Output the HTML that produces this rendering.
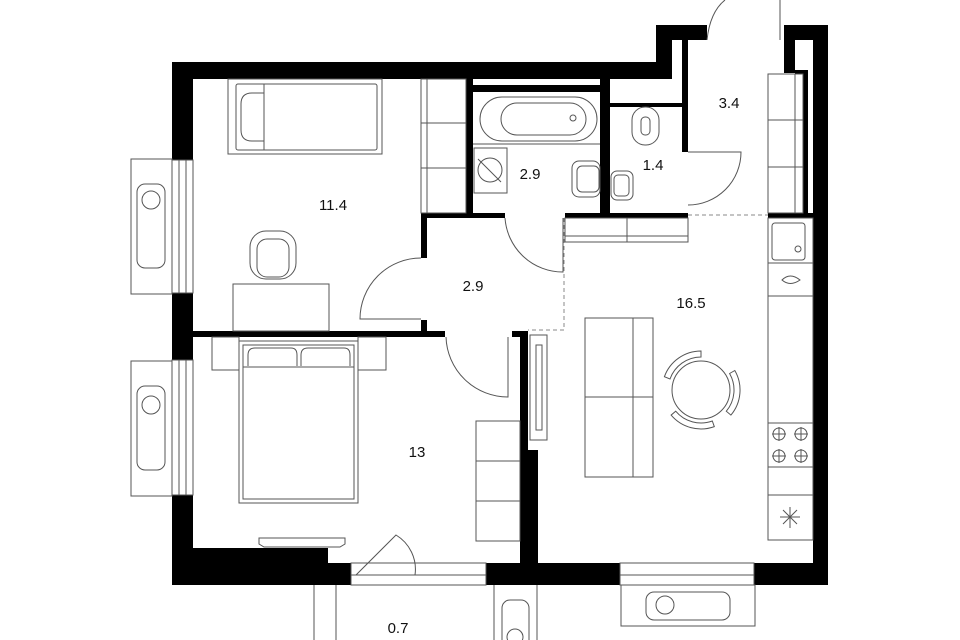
<!DOCTYPE html>
<html><head><meta charset="utf-8"><style>
html,body{margin:0;padding:0;background:#fff;}
svg{display:block;}
text{font-family:"Liberation Sans",sans-serif;font-size:15px;fill:#111;text-anchor:middle;}
</style></head><body>
<svg width="960" height="640" viewBox="0 0 960 640" xmlns="http://www.w3.org/2000/svg">
<g fill="#000">
<rect x="172" y="62" width="500" height="17"/>
<rect x="656" y="25" width="16" height="54"/>
<rect x="656" y="25" width="51" height="15"/>
<rect x="682" y="40" width="6" height="112"/>
<rect x="784" y="25" width="44" height="15"/>
<rect x="784" y="25" width="11" height="48"/>
<rect x="795" y="70" width="13" height="4"/>
<rect x="803" y="70" width="5" height="145"/>
<rect x="813" y="25" width="15" height="560"/>
<rect x="172" y="62" width="21" height="98"/>
<rect x="172" y="293" width="21" height="67"/>
<rect x="172" y="495" width="21" height="90"/>
<rect x="172" y="548" width="156" height="37"/>
<rect x="172" y="563" width="179" height="22"/>
<rect x="486" y="563" width="134" height="22"/>
<rect x="754" y="563" width="74" height="22"/>
<rect x="193" y="331" width="252" height="6"/>
<rect x="421" y="213" width="6" height="45"/>
<rect x="421" y="320" width="6" height="11"/>
<rect x="421" y="213" width="84" height="5"/>
<rect x="565" y="213" width="123" height="5"/>
<rect x="466" y="79" width="7" height="139"/>
<rect x="473" y="85" width="127" height="7"/>
<rect x="600" y="79" width="10" height="139"/>
<rect x="610" y="103" width="72" height="4"/>
<rect x="520" y="331" width="8" height="232"/>
<rect x="512" y="331" width="16" height="6"/>
<rect x="520" y="450" width="18" height="113"/>
<rect x="768" y="213" width="45" height="5"/>
</g>
<g fill="none" stroke="#555" stroke-width="1">
<rect x="172" y="160" width="21" height="133"/><line x1="179" y1="160" x2="179" y2="293"/><line x1="186" y1="160" x2="186" y2="293"/>
<rect x="172" y="360" width="21" height="135"/><line x1="179" y1="360" x2="179" y2="495"/><line x1="186" y1="360" x2="186" y2="495"/>
<rect x="131" y="159" width="41" height="135"/><rect x="137" y="184" width="28" height="84" rx="8"/><circle cx="151" cy="200" r="9"/>
<rect x="131" y="361" width="41" height="135"/><rect x="137" y="386" width="28" height="84" rx="8"/><circle cx="151" cy="405" r="9"/>
<rect x="351" y="563" width="135" height="22"/><line x1="351" y1="575" x2="486" y2="575"/>
<rect x="620" y="563" width="134" height="22"/><line x1="620" y1="575" x2="754" y2="575"/>
<rect x="621" y="585" width="134" height="41"/><rect x="646" y="592" width="84" height="28" rx="8"/><circle cx="665" cy="605" r="9"/>
<line x1="314" y1="585" x2="314" y2="640"/><line x1="336" y1="585" x2="336" y2="640"/>
<line x1="494" y1="585" x2="494" y2="640"/><line x1="537" y1="585" x2="537" y2="640"/>
<rect x="502" y="600" width="27" height="50" rx="8"/><circle cx="515" cy="637" r="8"/>
<rect x="228" y="79" width="154" height="75"/><rect x="236" y="84" width="141" height="66" rx="2"/><line x1="264" y1="84" x2="264" y2="150"/>
<path d="M264 93 H252 Q241 93 241 104 V130 Q241 141 252 141 H264"/>
<rect x="421" y="79" width="45" height="134"/><line x1="421" y1="123" x2="466" y2="123"/><line x1="421" y1="168" x2="466" y2="168"/><line x1="427" y1="79" x2="427" y2="213"/>
<rect x="250" y="231" width="46" height="48" rx="16"/><rect x="257" y="239" width="32" height="38" rx="10"/>
<rect x="233" y="284" width="96" height="47"/>
<path d="M421 258 A61 61 0 0 0 360 319 H421"/>
<rect x="480" y="97" width="117" height="44" rx="22"/><rect x="501" y="103" width="85" height="32" rx="16"/><circle cx="573" cy="118" r="3"/>
<line x1="473" y1="144" x2="600" y2="144"/>
<rect x="474" y="148" width="33" height="45"/><circle cx="490" cy="170" r="12"/><line x1="478" y1="159" x2="501" y2="182"/>
<rect x="572" y="161" width="28" height="36" rx="7"/><rect x="577" y="166" width="22" height="26" rx="5"/>
<path d="M505 218 A58 58 0 0 0 563 272 V218"/>
<rect x="632" y="107" width="27" height="38" rx="13"/><rect x="641" y="117" width="9" height="18" rx="4"/>
<rect x="611" y="171" width="22" height="29" rx="6"/><rect x="614" y="175" width="15" height="21" rx="4"/>
<path d="M688 152 H741 A53 53 0 0 1 688 205"/>
<path d="M707 40 Q710 12 725 0"/><line x1="780" y1="0" x2="780" y2="40"/>
<rect x="768" y="74" width="35" height="139"/><line x1="768" y1="120" x2="803" y2="120"/><line x1="768" y1="167" x2="803" y2="167"/><line x1="795" y1="74" x2="795" y2="213"/>
<rect x="565" y="218" width="123" height="24"/><line x1="627" y1="218" x2="627" y2="242"/><line x1="565" y1="236" x2="688" y2="236"/>
<rect x="768" y="218" width="45" height="322"/>
<line x1="768" y1="263" x2="813" y2="263"/><line x1="768" y1="296" x2="813" y2="296"/><line x1="768" y1="423" x2="813" y2="423"/><line x1="768" y1="467" x2="813" y2="467"/><line x1="768" y1="495" x2="813" y2="495"/>
<rect x="772" y="223" width="33" height="37" rx="3"/><circle cx="798" cy="249" r="3"/>
<path d="M782 280 Q790 272 800 280 Q790 287 782 280Z"/>
<circle cx="779" cy="434" r="6"/><circle cx="801" cy="434" r="6"/><circle cx="779" cy="456" r="6"/><circle cx="801" cy="456" r="6"/>
<path d="M779 427 V441 M772 434 H786 M801 427 V441 M794 434 H808 M779 449 V463 M772 456 H786 M801 449 V463 M794 456 H808"/>
<path d="M790 507 V528 M780 517 H800 M783 510 L797 524 M797 510 L783 524"/>
<rect x="585" y="318" width="68" height="159"/><line x1="633" y1="318" x2="633" y2="477"/><line x1="585" y1="397" x2="653" y2="397"/>
<circle cx="701" cy="390" r="29"/>
<path d="M670 379 A33 33 0 0 1 701 357 L701 351 A39 39 0 0 0 664.4 376.7 Z"/>
<path d="M729.6 373.5 A33 33 0 0 1 726.3 411.2 L730.9 415.1 A39 39 0 0 0 734.8 370.5 Z"/>
<path d="M712.3 421 A33 33 0 0 1 675.7 411.2 L671.1 415.1 A39 39 0 0 0 714.3 426.6 Z"/>
<rect x="530" y="335" width="17" height="105"/><rect x="536" y="345" width="6" height="85"/>
<rect x="212" y="337" width="27" height="33"/><rect x="358" y="337" width="28" height="33"/>
<rect x="239" y="341" width="119" height="162"/><rect x="243" y="345" width="111" height="154"/>
<path d="M248 366 V355 Q248 348 255 348 H291 Q297 348 297 355 V366 M301 366 V355 Q301 348 308 348 H344 Q350 348 350 355 V366"/><line x1="243" y1="367" x2="354" y2="367"/>
<rect x="476" y="421" width="44" height="120"/><line x1="476" y1="461" x2="520" y2="461"/><line x1="476" y1="501" x2="520" y2="501"/>
<path d="M259 538 H345 V544 L340 547 H264 L259 544Z"/>
<path d="M446 337 A62 62 0 0 0 508 397 V337"/>
<path d="M356 575 L396 535 A40 40 0 0 1 415 575"/>
</g>
<g fill="none" stroke="#888" stroke-width="1" stroke-dasharray="4 3">
<path d="M564 218 V330 H528"/><line x1="688" y1="215" x2="768" y2="215"/>
</g>
<text x="333" y="210">11.4</text>
<text x="530" y="179">2.9</text>
<text x="473" y="291">2.9</text>
<text x="653" y="170">1.4</text>
<text x="729" y="108">3.4</text>
<text x="691" y="308">16.5</text>
<text x="417" y="457">13</text>
<text x="398" y="633">0.7</text>
</svg>
</body></html>
